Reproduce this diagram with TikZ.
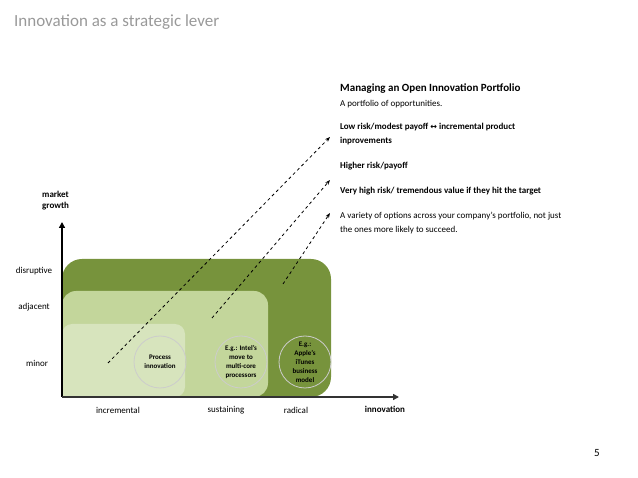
\documentclass[tikz,border=0pt]{standalone}
\usepackage{fontspec}
\setmainfont{Carlito}
\newfontfamily\djv{DejaVu Sans}
\usetikzlibrary{arrows.meta}
\definecolor{gdark}{HTML}{77933C}
\definecolor{gmed}{HTML}{C3D69B}
\definecolor{glight}{HTML}{D7E4BD}
\begin{document}
\begin{tikzpicture}[x=1pt,y=-1pt,
  lbl/.style={font=\fontsize{9}{10}\selectfont,inner sep=0},
  rt/.style={font=\fontsize{9}{14}\selectfont,anchor=west,inner sep=0},
  circ/.style={circle,draw=gray!40,line width=0.8pt,minimum size=52pt,align=center,font=\fontsize{7}{9}\selectfont\bfseries,inner sep=0},
  dsh/.style={dashed,line width=0.8pt,-{Stealth[length=5pt]}},
  ax/.style={line width=1.5pt,-{Triangle[length=6pt,width=6pt]},draw=black}]
\useasboundingbox (0,0) rectangle (638,478);
\node[anchor=west,inner sep=0,text=gray!80,font=\fontsize{17}{20}\selectfont] (title) at (14,22) {Innovation as a strategic lever};
\fill[gdark,rounded corners=20pt] (62,397) -- (62,259) -- (331,259) -- (331,397) [sharp corners] -- cycle;
\fill[gmed,rounded corners=14pt] (62,397) -- (62,291) -- (268,291) -- (268,397) [sharp corners] -- cycle;
\fill[glight,rounded corners=10pt] (62,397) -- (62,324) -- (185,324) -- (185,397) [sharp corners] -- cycle;
\coordinate (o) at (62,397);
\coordinate (yt) at (62,222);
\coordinate (xt) at (399,397);
\draw[ax,draw=black] (62,397) -- (yt);
\draw[ax,draw=black!80] (62,397) -- (xt);
\node[circ] (c1) at (160,362) {Process\\innovation};
\node[circ] (c2) at (241,362) {E.g.: Intel's\\move to\\multi-core\\processors};
\node[circ] (c3) at (305,362) {E.g.:\\Apple's\\iTunes\\business\\model};
\coordinate (s1) at (108,363); \coordinate (e1) at (330,137);
\coordinate (s2) at (212,318); \coordinate (e2) at (330,180);
\coordinate (s3) at (283,284); \coordinate (e3) at (330,213);
\draw[dsh] (s1) -- (e1);
\draw[dsh] (s2) -- (e2);
\draw[dsh] (s3) -- (e3);
\node[lbl,font=\fontsize{9}{11}\selectfont\bfseries,align=left,anchor=west] (mg) at (42,201) {market\\growth};
\node[lbl] (d) at (34,271) {disruptive};
\node[lbl] (a) at (34,307) {adjacent};
\node[lbl] (m) at (37,363) {minor};
\node[lbl] (i1) at (118,410) {incremental};
\node[lbl] (i2) at (226,410) {sustaining};
\node[lbl] (i3) at (296,410) {radical};
\node[lbl,font=\fontsize{9}{10}\selectfont\bfseries] (inn) at (385,409) {innovation};
\node[rt,font=\fontsize{11}{13}\selectfont\bfseries] (h) at (340,89) {Managing an Open Innovation Portfolio};
\node[rt] (h2) at (340,104) {A portfolio of opportunities.};
\node[rt,font=\fontsize{9}{14}\selectfont\bfseries,align=left,anchor=north west] (l1) at (340,123) {Low risk/modest payoff {\djv\fontsize{8}{10}\selectfont↔} incremental product\\inprovements};
\node[rt,font=\fontsize{9}{14}\selectfont\bfseries] (l2) at (340,166) {Higher risk/payoff};
\node[rt,font=\fontsize{9}{14}\selectfont\bfseries] (l3) at (340,191) {Very high risk/ tremendous value if they hit the target};
\node[rt,align=left,anchor=north west] (l4) at (340,212) {A variety of options across your company's portfolio, not just\\the ones more likely to succeed.};
\node[lbl,font=\fontsize{11}{12}\selectfont] (pg) at (597,453) {5};
\end{tikzpicture}
\end{document}
